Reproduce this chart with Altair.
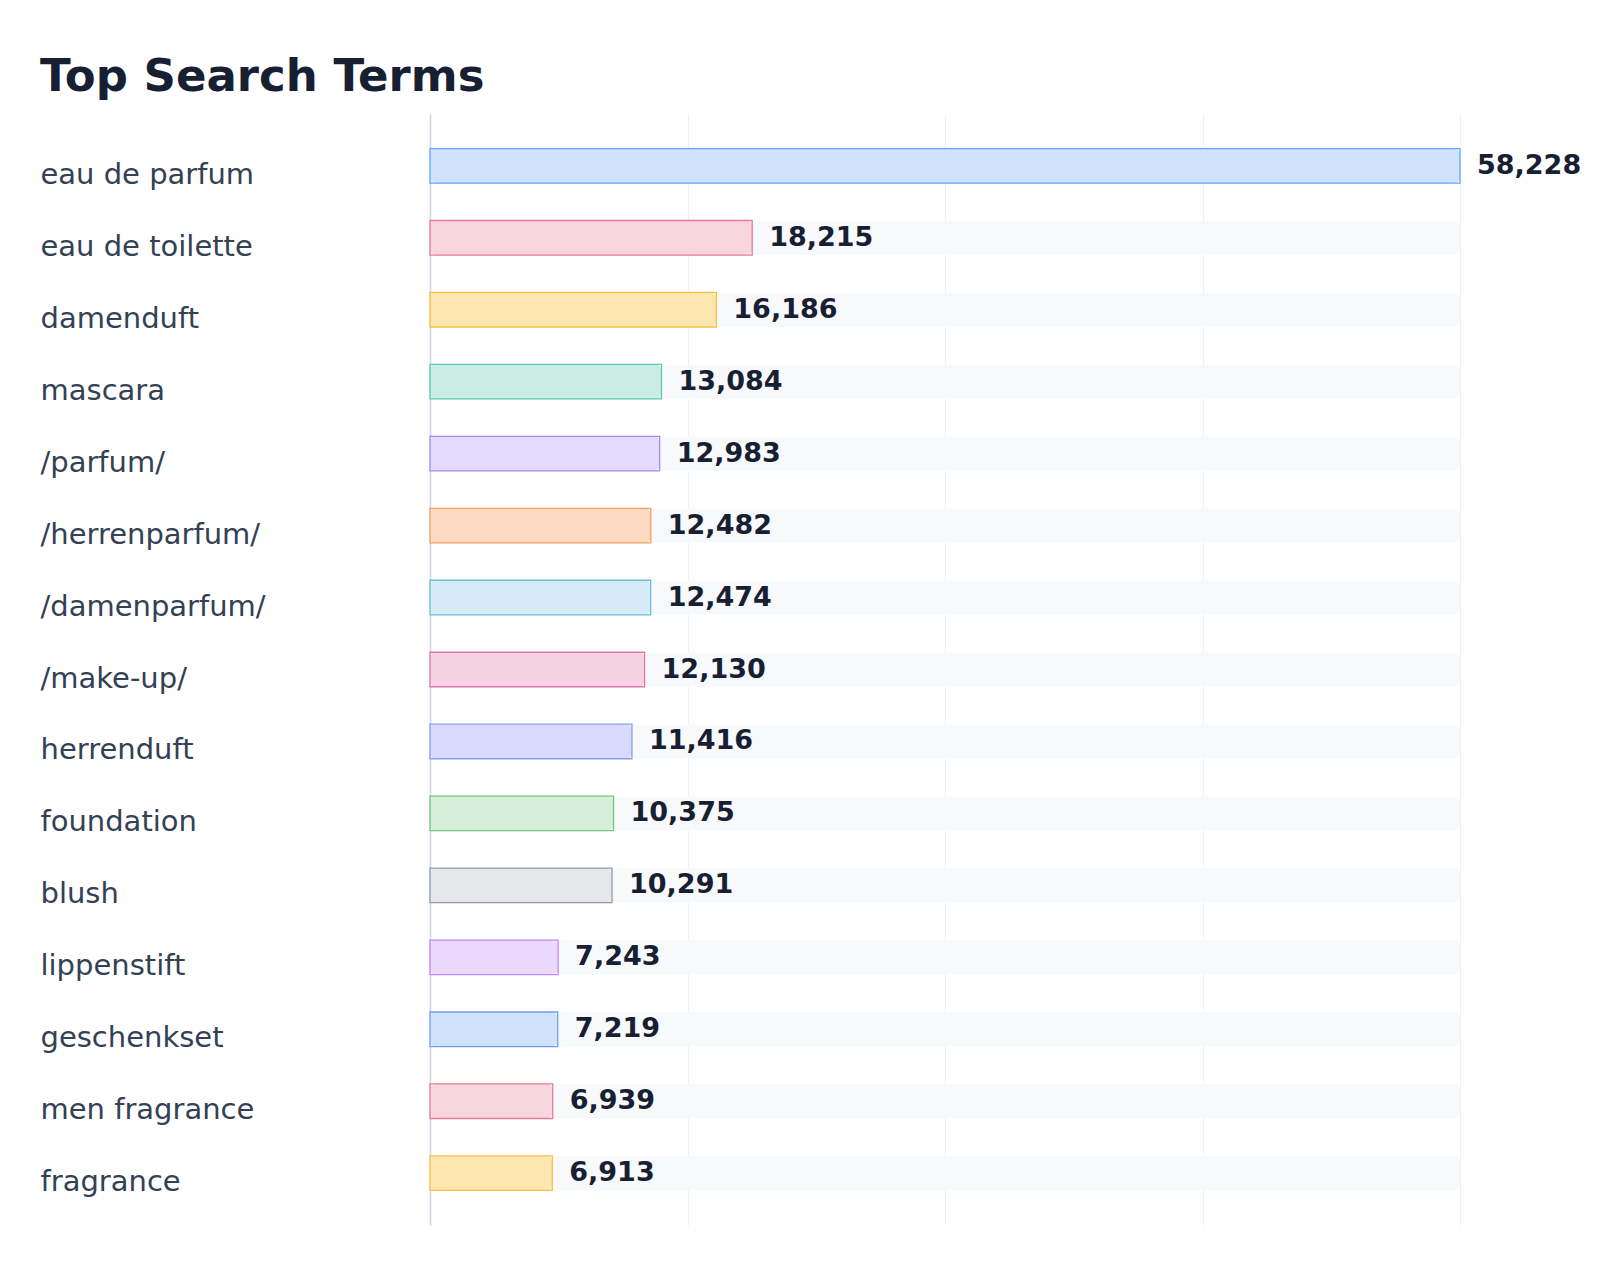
import altair as alt
import pandas as pd

terms = [
    "eau de parfum", "eau de toilette", "damenduft", "mascara", "/parfum/",
    "/herrenparfum/", "/damenparfum/", "/make-up/", "herrenduft", "foundation",
    "blush", "lippenstift", "geschenkset", "men fragrance", "fragrance",
]
counts = [58228, 18215, 16186, 13084, 12983, 12482, 12474, 12130, 11416,
          10375, 10291, 7243, 7219, 6939, 6913]

fills = ["#d1e2fe", "#f8d6e0", "#fde6b0", "#ccede6", "#e3dbfd", "#fed9c2",
         "#d5ebf6", "#f6d3e3", "#d8dbfe", "#d6efd9", "#e5e7eb", "#ebd8fd",
         "#d1e2fe", "#f8d6e0", "#fde6b0"]
strokes = ["#60a5fa", "#e8799a", "#f5c03b", "#5ccab0", "#a38af5", "#f5a05a",
           "#6bbdd8", "#dc78a8", "#8b9cf5", "#72c47f", "#8c9bb0", "#c186f5",
           "#6f9fe8", "#e87a9a", "#f5c242"]

FONT = "DejaVu Sans"
top = max(counts)
df = pd.DataFrame({"term": terms, "count": counts, "max": [top] * len(terms)})

y_enc = alt.Y(
    "term:N",
    sort=terms,
    scale=alt.Scale(paddingInner=0.52, paddingOuter=0.48),
    axis=alt.Axis(
        title=None, ticks=False, tickSize=0, labelAlign="left", labelPadding=390,
        labelFontSize=29, labelColor="#334155", labelFont=FONT,
        labelBaseline="middle", labelOffset=9, domainColor="#cbd5e1",
        domainWidth=1.5, grid=False, labelLimit=0,
    ),
)
x_scale = alt.Scale(domain=[0, top], nice=False, zero=True)

base = alt.Chart(df).encode(y=y_enc)

# light track behind every bar, full length
track = base.mark_bar(cornerRadius=8, color="#f8f9fb").encode(
    x=alt.X(
        "max:Q", scale=x_scale,
        axis=alt.Axis(
            title=None, labels=False, ticks=False, domain=False,
            values=[top * i / 4 for i in range(5)],
            gridColor="#eef0f4", gridWidth=1,
        ),
    )
)

fill_bar = base.mark_bar(cornerRadius=6).encode(
    x=alt.X("count:Q", scale=x_scale),
    fill=alt.Fill("term:N", scale=alt.Scale(domain=terms, range=fills), legend=None),
)

# square outline drawn on top of the rounded fill
stroke_bar = base.mark_bar(fillOpacity=0, strokeWidth=1.3).encode(
    x=alt.X("count:Q", scale=x_scale),
    stroke=alt.Stroke("term:N", scale=alt.Scale(domain=terms, range=strokes), legend=None),
)

labels = base.mark_text(
    align="left", baseline="middle", dx=17, fontSize=27, fontWeight="bold",
    font=FONT, color="#172033",
).encode(
    x=alt.X("count:Q", scale=x_scale),
    text=alt.Text("count:Q", format=",.0f"),
)

chart = (
    alt.layer(track, fill_bar, stroke_bar, labels)
    .properties(
        width=1030,
        height=1111,
        padding={"left": 32, "top": 47, "right": 10, "bottom": 10},
        title=alt.TitleParams(
            "Top Search Terms", anchor="start", fontSize=45, font=FONT,
            fontWeight="bold", color="#172033", offset=14,
        ),
    )
    .configure_view(stroke=None)
)

chart.save("out.html", embed_options={"renderer": "svg", "actions": False})
